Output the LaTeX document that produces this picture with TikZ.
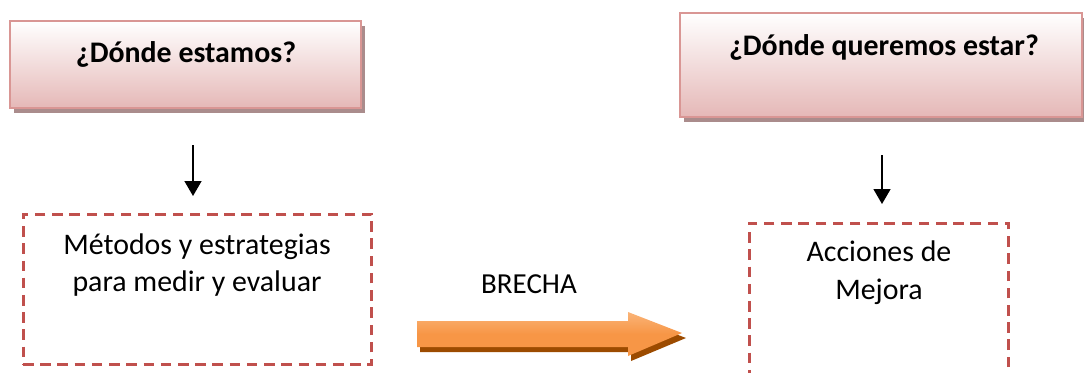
\documentclass[tikz,border=0pt]{standalone}
\usepackage{fontspec}
\setmainfont{Carlito}
\usetikzlibrary{arrows.meta,shadows}

\definecolor{pinkline}{RGB}{217,150,148}
\definecolor{pinkfill}{RGB}{229,184,183}
\definecolor{pinkshadow}{RGB}{170,140,140}
\definecolor{dashred}{RGB}{192,80,77}
\definecolor{orangefill}{RGB}{247,150,70}
\definecolor{orangelight}{RGB}{250,180,120}
\definecolor{orangedark}{RGB}{156,75,0}

\begin{document}
\begin{tikzpicture}
      [x=0.02cm,y=-0.02cm,
       question/.style={draw=pinkline, line width=1.3pt, top color=white, bottom color=pinkfill,
         drop shadow={fill=pinkshadow, opacity=1, shadow xshift=0.08cm, shadow yshift=-0.1cm}},
       dashbox/.style={draw=dashred, line width=1.7pt, dash pattern=on 6pt off 3.8pt},
       title/.style={font=\fontsize{17}{20}\selectfont\bfseries, anchor=base},
       body/.style={font=\fontsize{17}{21.5}\selectfont, align=center},
       conn/.style={line width=0.85pt, -{Triangle[width=0.34cm,length=0.3cm]}}]
    \useasboundingbox (0,0) rectangle (1084,372);

    % top boxes
    \node[question, minimum width=7.02cm, minimum height=1.74cm] (estamos) at (185.5,64.5) {};
    \node[question, minimum width=8.04cm, minimum height=2.08cm] (queremos) at (881,65) {};
    \node[title] (testamos) at (186,62) {¿Dónde estamos?};
    \node[title] (tqueremos) at (884,55) {¿Dónde queremos estar?};

    % dashed boxes
    \node[dashbox, minimum width=6.98cm, minimum height=3.02cm] (metodos) at (197.5,289.5) {};
    \node[dashbox, minimum width=5.2cm, minimum height=3.54cm] (acciones) at (879,311.5) {};
    \node[body] (tmetodos) at (197,265) {Métodos y estrategias\\para medir y evaluar};
    \node[body] (tacciones) at (879,273) {Acciones de\\Mejora};

    % arrows
    \coordinate (a1) at (193,145);
    \coordinate (b1) at (193,196);
    \coordinate (a2) at (882,155);
    \coordinate (b2) at (882,204);
    \draw[conn] (a1) -- (b1);
    \draw[conn] (a2) -- (b2);

    % brecha
    \node[font=\fontsize{16.5}{19}\selectfont, anchor=base] (brecha) at (529,293) {BRECHA};
    \fill[orangedark] (420,326) -- (631,326) -- (631,317) -- (686,338) -- (631,361) -- (631,352) -- (420,352) -- cycle;
    \shade[top color=orangelight, bottom color=orangefill, middle color=orangefill]
      (417,321) -- (628,321) -- (628,312) -- (682,333) -- (628,356) -- (628,347) -- (417,347) -- cycle;
  \end{tikzpicture}
\end{document}
